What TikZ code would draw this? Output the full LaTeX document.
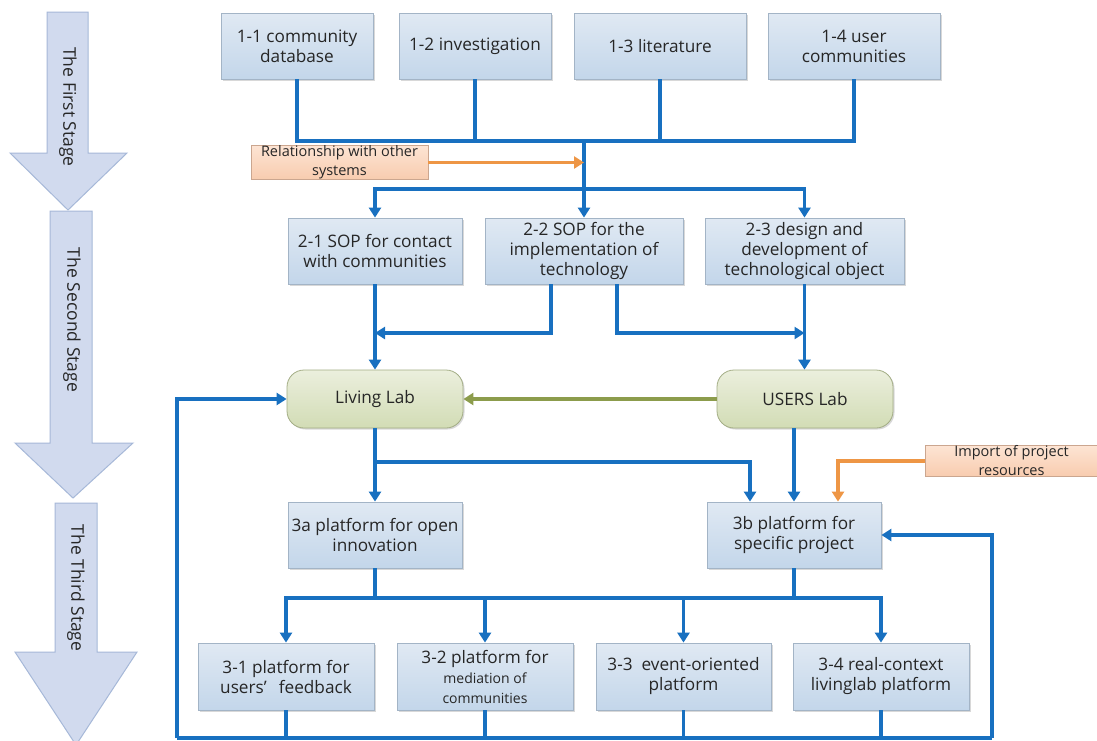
\documentclass[tikz,border=0pt]{standalone}
\usepackage{fontspec}
\setmainfont{Open Sans}
\usetikzlibrary{arrows.meta,shadows}
\definecolor{lineblue}{HTML}{1870C0}
\definecolor{lineorange}{HTML}{EE9645}
\definecolor{linegreen}{HTML}{8C9C4C}
\definecolor{boxtop}{HTML}{E0E9F3}
\definecolor{boxbot}{HTML}{C3D6EA}
\definecolor{boxborder}{HTML}{A3B4C6}
\definecolor{otop}{HTML}{FDE4D3}
\definecolor{obot}{HTML}{F8CCAF}
\definecolor{oborder}{HTML}{CBA68F}
\definecolor{gtop}{HTML}{EBEFDD}
\definecolor{gbot}{HTML}{D2DCB5}
\definecolor{gborder}{HTML}{A3AD85}
\definecolor{stagefill}{HTML}{D1DAEE}
\definecolor{stageborder}{HTML}{A6B8D8}
\definecolor{textc}{HTML}{262626}
\tikzset{
  box/.style={draw=boxborder, top color=boxtop, bottom color=boxbot, line width=0.8pt,
    minimum height=66, inner sep=1pt, align=center, text=textc,
    font=\fontsize{17.2}{20}\selectfont,
    drop shadow={shadow xshift=1.5pt, shadow yshift=-1.5pt, opacity=0.3, fill=gray}},
  obox/.style={draw=oborder, top color=otop, bottom color=obot, line width=0.8pt,
    inner xsep=1pt, inner ysep=0pt, align=center, text=textc,
    font=\fontsize{14.5}{19}\selectfont},
  gbox/.style={draw=gborder, top color=gtop, bottom color=gbot, line width=0.8pt,
    rounded corners=17pt, minimum width=176, minimum height=58, align=center, text=textc,
    font=\fontsize{17.2}{20}\selectfont,
    drop shadow={shadow xshift=1.5pt, shadow yshift=-1.5pt, opacity=0.3, fill=gray}},
  bl/.style={draw=lineblue, line width=3.2pt},
  bla/.style={bl, -{Triangle[length=10pt,width=12pt]}},
  ora/.style={draw=lineorange, line width=3.2pt, -{Triangle[length=10pt,width=12pt]}},
  gra/.style={draw=linegreen, line width=3.2pt, -{Triangle[length=10pt,width=12pt]}},
  stagearrow/.style={fill=stagefill, draw=stageborder, line width=1pt, line join=miter},
  stagetext/.style={rotate=-90, text=textc, font=\fontsize{17.5}{20}\selectfont},
  small/.style={font=\fontsize{14}{20}\selectfont}
}
\begin{document}
\begin{tikzpicture}[x=1pt,y=-1pt]
\fill[white] (0,0) rectangle (1097,740);
\useasboundingbox (0,0) rectangle (1097,740);

% stage arrows
\begin{scope}
\clip (0,0) rectangle (1097,740);
\draw[stagearrow] (47,12) -- (88,12) -- (88,153) -- (127,153) -- (68,210) -- (10,153) -- (47,153) -- cycle;
\draw[stagearrow] (50,211) -- (92,211) -- (92,443) -- (133,443) -- (73,498) -- (15,443) -- (50,443) -- cycle;
\draw[stagearrow] (55,503) -- (97,503) -- (97,652) -- (137,652) -- (76,745) -- (15,652) -- (55,652) -- cycle;
\end{scope}
\node[stagetext] (s1) at (68,107) {The First Stage};
\node[stagetext] (s2) at (72,320) {The Second Stage};
\node[stagetext] (s3) at (76,588) {The Third Stage};

% first row
\node[box, minimum width=152] (n11) at (297,46) {1-1 community\\database};
\node[box, minimum width=152] (n12) at (475,46) {1-2 investigation};
\node[box, minimum width=172] (n13) at (660,46) {1-3 literature};
\node[box, minimum width=172] (n14) at (854,46) {1-4 user\\communities};
\node[obox, minimum width=177, minimum height=31] (rel) at (339.5,162.5) {Relationship with other\\systems};

% second row
\node[box, minimum width=174] (n21) at (375,251) {2-1 SOP for contact\\with communities};
\node[box, minimum width=198] (n22) at (584,251) {2-2 SOP for the\\implementation of\\technology};
\node[box, minimum width=199] (n23) at (804.5,251) {2-3 design and\\development of\\technological object};

% labs
\node[gbox] (LL) at (375,399) {Living Lab};
\node[gbox] (UL) at (805,399) {USERS Lab};

% third stage
\node[box, minimum width=174] (n3a) at (375,535) {3a platform for open\\innovation};
\node[box, minimum width=174] (n3b) at (794,535) {3b platform for\\specific project};
\node[obox, minimum width=172, minimum height=30] (imp) at (1011.5,461) {Import of project\\resources};

\node[box, minimum width=176, minimum height=67] (n31) at (286,676.5) {3-1 platform for\\users’\hspace{0.7em}feedback};
\node[box, minimum width=176, minimum height=67] (n32) at (485,676.5) {3-2 platform for\\\fontsize{14}{21}\selectfont mediation of\\\fontsize{14}{22}\selectfont communities};
\node[box, minimum width=175, minimum height=67] (n33) at (683.5,676.5) {3-3\ \ event-oriented\\platform};
\node[box, minimum width=176, minimum height=67] (n34) at (881,676.5) {3-4 real-context\\livinglab platform};

% connectors, first stage
\coordinate (b1) at (584,141);
\coordinate (b2) at (584,189);
\draw[bl] (n11.south) |- (b1) -| (n14.south);
\draw[bl] (n12.south) -- (n12.south |- b1);
\draw[bl] (n13.south) -- (n13.south |- b1);
\draw[bl] (b1) -- (b2);
\draw[bla] (b2) -| (n21.north);
\draw[bla] (b2) -| (n23.north);
\draw[bla] (b2) -- (n22.north);
\draw[ora] (rel.east) -- (rel.east -| b1);

% second stage
\coordinate (m1) at (375,333);
\coordinate (m2) at (804.5,333);
\draw[bla] (n21.south) -- (LL.north);
\draw[bla] ([xshift=-33pt]n22.south) |- (m1);
\draw[bla] ([xshift=33pt]n22.south) |- (m2);
\draw[bla] (n23.south) -- (n23.south |- UL.north);
\draw[gra] (UL.west) -- (LL.east);

% third stage
\coordinate (k) at (375,462);
\draw[bla] (LL.south) -- (n3a.north);
\draw[bla] (k) -| ([xshift=-44pt]n3b.north);
\draw[bla] (n3b.north |- UL.south) -- (n3b.north);
\draw[ora] (imp.west) -| ([xshift=44pt]n3b.north);

\coordinate (c3) at (375,598);
\coordinate (c4) at (794,598);
\draw[bl] (n3a.south) -- (c3);
\draw[bl] (n3b.south) -- (c4);
\draw[bl] (c3) -- (c4);
\draw[bla] (c3) -| (n31.north);
\draw[bla] (c3) -| (n32.north);
\draw[bla] (c4) -| (n33.north);
\draw[bla] (c4) -| (n34.north);

% feedback loops
\coordinate (bl) at (177,738);
\coordinate (br) at (992,738);
\draw[bl] (bl) -- (br);
\draw[bla] (bl) |- (LL.west);
\draw[bla] (br) |- (n3b.east);
\draw[bl] (n31.south) -- (n31.south |- bl);
\draw[bl] (n32.south) -- (n32.south |- bl);
\draw[bl] (n33.south) -- (n33.south |- bl);
\draw[bl] (n34.south) -- (n34.south |- bl);
\end{tikzpicture}
\end{document}
